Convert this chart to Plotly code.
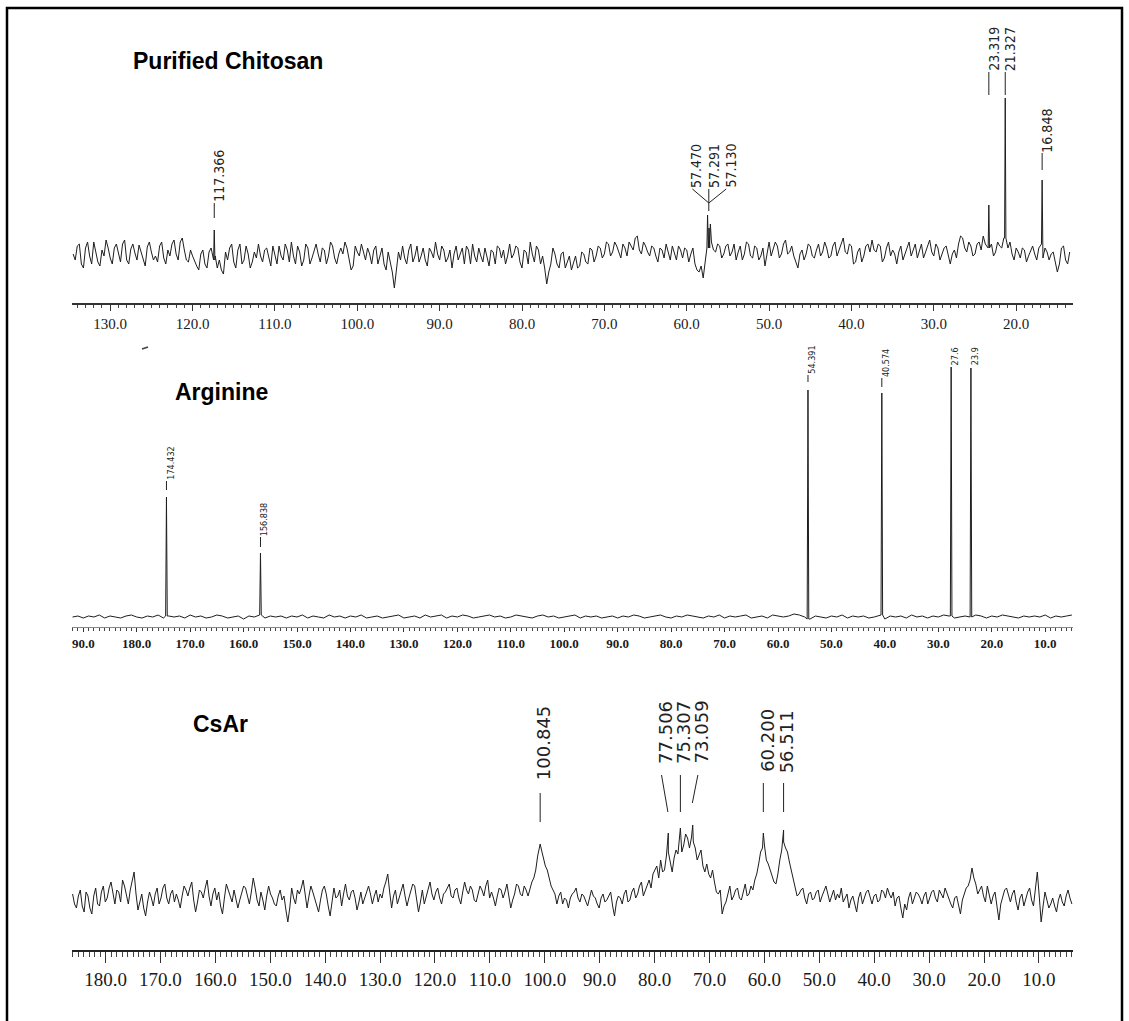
import plotly.graph_objects as go

W, H = 1129, 1021

# ---------------- data (intensity in arbitrary units, baseline = 0) ----------------
# Purified Chitosan: sampled every 0.5 ppm from 134.5 ppm downward,
# plus the in-between samples (134.25, 133.75, ...)
chitosan_start = 134.5
chitosan_step = 0.5
chitosan_noise = [
    4, 12, -6, 10, 2, 16, -4, 8, 18, 0, 10, 3, 14, -2, 9, 5, 13, -3, 11, 6,
    2, 12, 0, 8, 14, 4, 16, 8, -4, 2, -8, 4, -6, 6, -2, -10, -12, 6, 10, -4,
    8, -6, 12, -10, 6, 14, -4, 10, -8, 4, 12, -2, 8, 16, -6, 6, -2, 10, 0, 14,
    -4, 8, 2, 12, -6, 10, 16, 0, -8, 6, 14, -2, 4, 8, -6, 10, -12, -4, -30, 6,
    12, -6, 14, 2, -4, 10, -8, 6, 16, -2, 8, 0, -10, 12, 4, -6, 8, 14, -4, 2,
    10, -8, 6, 12, 0, -6, 14, 4, 10, -10, 6, 16, -4, 8, 2, -26, -6, 4, -10, 6,
    -4, -12, 2, -8, 4, -6, 8, 2, 10, 4, 14, 6, 12, 0, 10, 16, 8, 22, 4, 12,
    2, 10, -4, 8, 14, -2, 6, 12, 0, 8, 4, -6, -14, -20, 10, 16, 6, 12, 4, 14,
    6, -2, 12, 4, 14, 0, 10, 2, -8, 16, 8, 12, 4, 18, 6, 2, -10, 8, 4, 12,
    0, 14, 6, 10, 2, 16, 8, 20, 4, 12, -4, 10, 2, 14, 18, 6, 12, 0, 16, 8,
    -6, 12, 4, 16, 8, 0, 14, 6, 18, 2, 10, 4, 12, -6, 8, 14, 20, 6, 12, 4,
    16, 22, 10, 14, 6, 12, 20, 10, 4, 10, 0, 8, 2, 12, -2, 14, 10, -2, 6, -14,
    10, -2, 6,
]
chitosan_noise_mid = [
    -2, 14, -10, 16, -6, 6, -8, 2, 10, -6, 14, -4, 18, -6, 14, -2, 6, -8, 16, -2,
    -4, 16, -6, 2, 18, -2, 20, -2, 8, -4, -12, 8, -10, 10, 2, -2, -16, -2, 14, -10,
    14, -2, 4, -4, 0, 2, 8, 0, 12, -6, 2, 14, -4, 2, 12, -8, 14, -6, 8, 4,
    10, -6, 16, 0, 4, 4, 10, -12, 12, 2, 6, 10, -6, 12, 2, -6, 6, -14, -12, -2,
    0, 8, -4, 12, 2, -2, 10, 0, 4, 12, -4, 8, 4, -2, 10, 12, -6, 2, 10, -4,
    2, 8, -6, 10, 8, 2, 0, 12, -4, 8, -6, 4, 12, -6, -10, -14, 10, -6, 4, -10,
    2, -4, -10, 6, -4, 10, -4, 12, 0, 16, 2, 16, 6, 14, 2, 12, 20, 8, 16, 6,
    12, 2, 10, 0, 6, 12, -2, 8, 10, -4, 10, -12, -8, -6, 20, 8, 14, 0, 12, 2,
    14, 6, -2, 16, 2, 12, -2, 10, 4, 2, 16, 0, 14, 4, 12, -4, 4, -2, 14, 2,
    8, 2, 16, 0, 12, 2, 16, 6, 14, -6, 6, -4, 12, 6, 8, 14, -4, 10, 2, 4,
    6, -2, 12, 2, 14, 8, 0, 14, 6, 14, -2, 10, 2, 4, 0, 22, 10, 16, 2, 14,
    8, 14, 20, 2, 16, 10, 14, 16, -2, 6, 10, -4, 8, 4, 10, 0, 6, 4, -6, -6,
    12, -6,
]
chitosan_peaks_ppm = [117.366, 57.470, 57.291, 57.130, 23.319, 21.327, 16.848]
chitosan_peaks_int = [28, 43, 30, 34, 53, 160, 78]
chitosan_ticks = [130, 120, 110, 100, 90, 80, 70, 60, 50, 40, 30, 20]

# Arginine: sampled every 1 ppm from 192 ppm downward
arginine_start = 192.0
arginine_step = 1.0
arginine_noise = [
    0, 1, -1, 1, 0, 2, -1, 1, 0, -1, 1, 2, 0, -1, 1, 0, 2, -1, 1, 0,
    1, -1, 2, 0, 1, -1, 0, 2, 1, -1, 0, 1, -2, 1, 0, 2, -1, 1, 0, 1,
    -1, 1, 0, 2, -1, 1, 0, -1, 2, 0, 1, -1, 1, 0, 2, -1, 0, 1, -1, 0,
    1, 2, -1, 0, 1, -1, 2, 0, 1, 2, -1, 1, 0, 2, 1, -1, 0, 1, 2, 0,
    1, -1, 0, 2, 1, 0, -1, 1, 2, 0, 1, -1, 0, 1, 2, -1, 1, 0, 1, -1,
    0, 1, -1, 1, 0, 2, 1, -1, 0, 1, 2, 0, -1, 1, 0, 2, 1, 0, -1, 1,
    0, 2, -1, 1, 0, 1, 2, -1, 0, 1, -1, 2, 1, 0, 1, 3, 2, 0, -2, 1,
    0, -1, 1, 0, 2, -1, 1, 0, 1, -1, 0, 2, -2, 1, 0, 1, -1, 2, 0, 1,
    -1, 1, 0, 2, 1, -1, 0, 1, 0, 2, 1, -1, 1, 0, 2, 1, 0, -1, 1, 0,
    1, 0, 2, -1, 1, 0, 1, 2,
]
arginine_peaks_ppm = [174.432, 156.838, 54.391, 40.574, 27.6, 23.9]
arginine_peaks_int = [120, 64, 227, 224, 250, 249]
arginine_labels = ["174.432", "156.838", "54.391", "40.574", "27.6", "23.9"]
arginine_ticks = [190, 180, 170, 160, 150, 140, 130, 120, 110, 100, 90, 80, 70, 60, 50, 40, 30, 20, 10]
arginine_ticktext = ["90.0", "180.0", "170.0", "160.0", "150.0", "140.0", "130.0", "120.0", "110.0",
                     "100.0", "90.0", "80.0", "70.0", "60.0", "50.0", "40.0", "30.0", "20.0", "10.0"]

# CsAr: sampled every 0.7 ppm from 186 ppm downward, plus in-between samples
csar_start = 186.0
csar_step = 0.7
csar_noise = [
    6, -8, 10, -12, 4, -14, 12, -6, 14, 2, 18, -4, 8, 20, 4, 10, 28, -10, 6, -16,
    8, -6, 12, 2, 16, -4, 10, 6, -8, 14, 4, 18, -12, 10, 2, 20, -6, 12, 8, -14,
    16, 4, 10, -8, 6, 12, -4, 22, 0, 8, -10, 14, 2, -6, 10, 4, -22, 12, -4, 6,
    20, -8, 14, 2, -12, 10, 6, -16, 12, 4, -6, 16, 0, 10, -10, 8, 2, 14, -4, 10,
    6, 12, 26, -8, 10, 2, 16, -6, 8, 14, -12, 10, 4, 18, 0, 12, -4, 8, 16, 2,
    12, -4, 18, 6, 10, -2, 14, 4, 20, 8, -6, 12, 2, 16, -8, 6, 14, 4, 10, 12,
    22, 44, 50, 34, 22, 10, -4, 8, 2, -8, 6, 12, -2, 4, -6, 10, 2, -8, 6, 0,
    8, -16, 4, -4, 10, 0, 12, 6, 18, 10, 20, 26, 34, 40, 30, 48, 28, 50, 62, 55,
    62, 62, 52, 45, 34, 36, 22, 18, 6, -14, -2, 14, 4, 12, 0, 16, 6, 10, 26, 48,
    55, 36, 24, 16, 40, 58, 48, 30, 14, 6, 12, -4, 8, 2, 10, 4, 14, -2, 10, 6,
    12, 2, -8, 4, -12, 8, 2, 10, -4, 6, 0, 8, 12, 2, -6, 4, -18, -10, 8, 2,
    6, -4, 8, 2, 10, -2, 6, 12, 0, -8, 4, -14, 6, 14, 32, 16, 10, 4, 14, -4,
    8, -20, 4, 12, -2, 10, -10, 6, 2, 12, -6, 28, -22, 8, -8, 2, -12, 6, -6, 10,
    -4,
]
csar_noise_mid = [
    -4, 4, -6, 8, -8, 4, -4, 8, -2, 12, 6, 10, -2, 14, -4, 20, 6, -2, -8, -2,
    2, 6, -4, 12, 2, 6, -2, 0, 4, 10, 12, 0, -2, 8, 12, 4, 6, 0, -6, 2,
    10, -2, 2, 0, 14, 2, 8, 12, -6, 0, 4, 6, -4, 4, 0, -10, -8, 2, 10, 12,
    6, 4, 8, -6, 0, 14, -6, -2, 2, 10, 6, 4, 8, 2, -2, -4, 10, 6, 4, -2,
    2, 18, 8, 4, -4, 10, 4, 2, 16, 0, -2, -4, 12, 6, 8, 2, 6, 12, 4, 10,
    2, 8, 10, 14, 0, 6, 10, 14, 2, 2, 4, 10, 8, 4, 0, 16, 6, 14, 4, 18,
    30, 52, 42, 30, 14, 6, 4, -4, 0, 2, 8, 2, 6, -2, 2, 4, -4, 2, -2, 4,
    -6, -2, 2, 6, -2, 8, 2, 14, 4, 16, 12, 30, 22, 28, 44, 36, 42, 46, 48, 66,
    52, 58, 40, 50, 28, 26, 30, 8, 10, -6, 6, 0, 10, 2, 8, 4, 14, 20, 36, 52,
    40, 30, 18, 26, 50, 52, 38, 22, 4, 10, 2, 6, 0, 8, -2, 10, 6, 4, 0, 2,
    -2, 6, 0, -6, 2, -4, 8, 2, 4, -2, 10, 2, 6, 8, 2, -8, -4, 2, -4, 8,
    2, 4, -4, 8, 2, 10, 2, 6, -4, 2, -6, 0, 12, 20, 22, 6, 14, -2, 6, 4,
    -6, -4, 10, 4, 6, -2, 2, -6, 8, 0, 10, 4, -6, 0, -4, -6, 0, -2, 4, 2,
]
csar_peaks_ppm = [100.845, 77.506, 75.307, 73.059, 60.200, 56.511]
csar_peaks_int = [56, 67, 72, 75, 67, 70]
csar_ticks = [180, 170, 160, 150, 140, 130, 120, 110, 100, 90, 80, 70, 60, 50, 40, 30, 20, 10]


def spectrum(start, step, noise, mid, pk_ppm, pk_int, half):
    pts = [(start - i * step, v) for i, v in enumerate(noise)]
    pts += [(start - step / 2 - i * step, v) for i, v in enumerate(mid)]
    for p, h in zip(pk_ppm, pk_int):
        if half:
            j = min(max(int(round((start - p) / step)), 0), len(noise) - 1)
            b = noise[j]
            # drop regular samples that fall inside the narrow line
            pts = [t for t in pts if abs(t[0] - p) > half]
            pts += [(p + half, b), (p, h), (p - half, b)]
        else:
            pts.append((p, h))
    pts.sort(key=lambda t: -t[0])
    return [t[0] for t in pts], [t[1] for t in pts]


cx, cy = spectrum(chitosan_start, chitosan_step, chitosan_noise, chitosan_noise_mid,
                  chitosan_peaks_ppm, chitosan_peaks_int, 0.08)
ax, ay = spectrum(arginine_start, arginine_step, arginine_noise, [],
                  arginine_peaks_ppm, arginine_peaks_int, 0.15)
sx, sy = spectrum(csar_start, csar_step, csar_noise, csar_noise_mid,
                  csar_peaks_ppm, csar_peaks_int, None)

LINE = "#1e1e1e"
fig = go.Figure()
fig.add_trace(go.Scatter(x=cx, y=cy, mode="lines", line=dict(color=LINE, width=1),
                         xaxis="x", yaxis="y", hoverinfo="skip"))
fig.add_trace(go.Scatter(x=ax, y=ay, mode="lines", line=dict(color=LINE, width=1),
                         xaxis="x2", yaxis="y2", hoverinfo="skip"))
fig.add_trace(go.Scatter(x=sx, y=sy, mode="lines", line=dict(color=LINE, width=1),
                         xaxis="x3", yaxis="y3", hoverinfo="skip"))

XD = [71.5 / W, 1073 / W]
SERIF = "Liberation Serif, Times New Roman, serif"


def xaxis(rng, anchor, tickvals, ticktext, font_size, linew, linecol, mlen, Mlen, bold=False):
    return dict(
        domain=XD, range=rng, anchor=anchor, showgrid=False, zeroline=False,
        showline=True, linecolor=linecol, linewidth=linew,
        ticks="outside", ticklen=Mlen, tickwidth=1, tickcolor="#333",
        tickmode="array", tickvals=tickvals, ticktext=ticktext,
        tickfont=dict(family=SERIF, size=font_size, color="#1a1a1a",
                      weight="bold" if bold else "normal"),
        minor=dict(tickmode="linear", tick0=0, dtick=1, ticks="outside",
                   ticklen=mlen, tickwidth=1, tickcolor="#444"),
        fixedrange=True,
    )


def ydom(bottom_px, top_px):
    return [1 - bottom_px / H, 1 - top_px / H]


layout = dict(
    width=W, height=H, margin=dict(l=0, r=0, t=0, b=0),
    paper_bgcolor="white", plot_bgcolor="white", showlegend=False,
    xaxis=xaxis([134.7, 13.1], "y", chitosan_ticks, [f"{t:.1f}" for t in chitosan_ticks],
                15, 1.5, "#333", 3, 6),
    yaxis=dict(domain=ydom(303, 20), range=[-45, 238], visible=False, fixedrange=True),
    xaxis2=xaxis([192.2, 4.8], "y2", arginine_ticks, arginine_ticktext, 13, 1, "#888", 3, 4, bold=True),
    yaxis2=dict(domain=ydom(627, 335), range=[-10, 282], visible=False, fixedrange=True),
    xaxis3=xaxis([186.2, 3.8], "y3", csar_ticks, [f"{t:.1f}" for t in csar_ticks],
                 19, 2, "#222", 5, 11),
    yaxis3=dict(domain=ydom(950, 660), range=[-50, 240], visible=False, fixedrange=True),
)
fig.update_layout(**layout)

ann = []
shapes = []

# titles
TITLE_FONT = dict(family="Liberation Sans, Arial, sans-serif", size=23, color="black")
for text, lx, ly in [("Purified Chitosan", 131, 61), ("Arginine", 173, 392), ("CsAr", 191, 724)]:
    ann.append(dict(text=f"<b>{text}</b>", xref="paper", yref="paper", x=lx / W, y=1 - ly / H,
                    xanchor="left", yanchor="middle", showarrow=False, font=TITLE_FONT))

# ---- peak labels: Purified Chitosan
top_font = dict(family="Liberation Sans Narrow, DejaVu Sans Condensed, Liberation Sans, sans-serif",
                size=14, color="#222")
chitosan_lab_x = [116.87, 58.87, 56.69, 54.68, 22.73, 20.73, 16.36]
chitosan_lab_y = [82.5, 92, 92, 92, 209, 209, 127.5]
for p, lx, ly in zip(chitosan_peaks_ppm, chitosan_lab_x, chitosan_lab_y):
    ann.append(dict(text=f"{p:.3f}", x=lx, y=ly, xref="x", yref="y", textangle=-90,
                    showarrow=False, xanchor="center", yanchor="middle", font=top_font))
chitosan_lines = [
    (117.366, 55, 117.366, 40),
    (59.31, 69, 57.32, 55), (57.32, 69, 57.32, 47), (55.21, 69, 57.32, 55),
    (23.319, 186, 23.319, 163), (21.327, 186, 21.327, 163), (16.848, 105, 16.848, 88),
]
for x0, y0, x1, y1 in chitosan_lines:
    shapes.append(dict(type="line", xref="x", yref="y", x0=x0, y0=y0, x1=x1, y1=y1,
                       line=dict(color="#222", width=1)))

# ---- peak labels: Arginine
arg_font = dict(family="Liberation Sans Narrow, DejaVu Sans Condensed, Liberation Sans, sans-serif",
                size=9, color="#222")
arginine_lab_y = [153.5, 97, 257, 253.5, 260.5, 260.5]
for p, txt, ly in zip(arginine_peaks_ppm, arginine_labels, arginine_lab_y):
    ann.append(dict(text=txt, x=p - 0.7, y=ly, xref="x2", yref="y2", textangle=-90,
                    showarrow=False, xanchor="center", yanchor="middle", font=arg_font))
arginine_lines = [(174.432, 136, 127), (156.838, 80, 70), (54.391, 242, 235), (40.574, 239, 230)]
for p, y0, y1 in arginine_lines:
    shapes.append(dict(type="line", xref="x2", yref="y2", x0=p, y0=y0, x1=p, y1=y1,
                       line=dict(color="#222", width=1)))

# ---- peak labels: CsAr
cs_font = dict(family="DejaVu Sans, sans-serif", size=18, color="#222")
csar_lab_x = [100.3, 78.12, 74.85, 71.48, 59.56, 55.92]
csar_lab_y = [157, 168, 168, 168, 160, 158.5]
for p, lx, ly in zip(csar_peaks_ppm, csar_lab_x, csar_lab_y):
    ann.append(dict(text=f"{p:.3f}", x=lx, y=ly, xref="x3", yref="y3", textangle=-90,
                    showarrow=False, xanchor="center", yanchor="middle", font=cs_font))
csar_lines = [
    (100.845, 107, 100.845, 78),
    (78.74, 125, 77.58, 88), (75.307, 125, 75.307, 88), (72.12, 125, 73.13, 97),
    (60.2, 117, 60.2, 88), (56.511, 117, 56.511, 88),
]
for x0, y0, x1, y1 in csar_lines:
    shapes.append(dict(type="line", xref="x3", yref="y3", x0=x0, y0=y0, x1=x1, y1=y1,
                       line=dict(color="#222", width=1)))

# frame around the whole figure and a small stray mark
shapes.append(dict(type="rect", xref="paper", yref="paper", x0=7 / W, x1=1122 / W,
                   y0=-0.05, y1=1 - 8 / H, line=dict(color="black", width=2.5)))
shapes.append(dict(type="line", xref="paper", yref="paper", x0=142 / W, y0=1 - 349 / H,
                   x1=148 / W, y1=1 - 347 / H, line=dict(color="#444", width=1.5)))

fig.update_layout(annotations=ann, shapes=shapes)

fig.write_html("out.html", config={"displayModeBar": False},
               post_script="document.body.style.margin='0';document.body.style.overflow='hidden';")
